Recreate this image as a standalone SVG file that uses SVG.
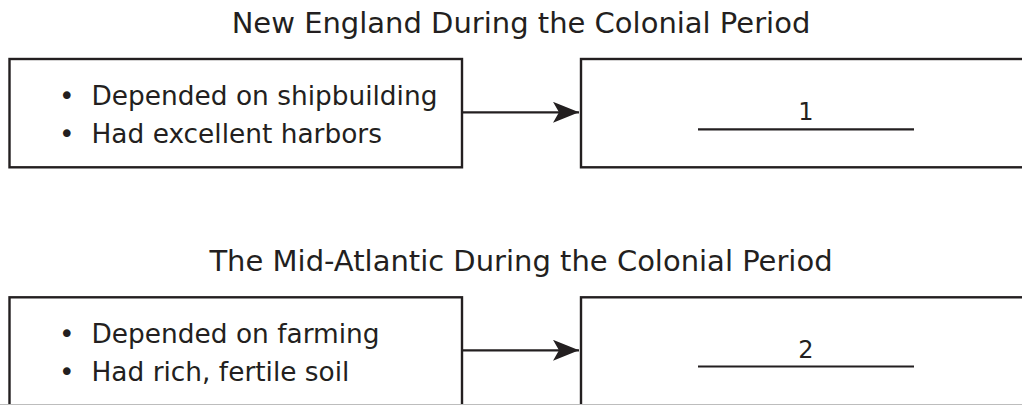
<svg xmlns="http://www.w3.org/2000/svg" width="1022" height="405" viewBox="0 0 1022 405">
<style>
.box{fill:#fff;stroke:#231f20;stroke-width:2.4}
.title{font-family:"DejaVu Sans",Verdana,sans-serif;font-size:29px;fill:#231f20;text-anchor:middle}
.body{font-family:"DejaVu Sans",Verdana,sans-serif;font-size:26.4px;fill:#231f20}
.bul{font-family:"DejaVu Sans",Verdana,sans-serif;font-size:26.4px;fill:#231f20;text-anchor:middle}
.num{font-family:"DejaVu Sans",Verdana,sans-serif;font-size:24px;fill:#231f20;text-anchor:middle}
.blank{stroke:#231f20;stroke-width:2.2}
.conn{stroke:#231f20;stroke-width:2.2;fill:none;marker-end:url(#arr)}
</style>
<defs>
<marker id="arr" markerUnits="userSpaceOnUse" viewBox="0 0 26 21" refX="26" refY="10.5" markerWidth="26" markerHeight="21" orient="auto">
<path d="M0,0 L26,10.5 L0,21 L6,10.5 Z" fill="#231f20"/>
</marker>
</defs>
<rect width="1022" height="405" fill="#fff"/>
<g id="title1"><text class="title" x="521" y="32.5">New England During the Colonial Period</text></g>
<g id="title2"><text class="title" x="521" y="270.8">The Mid-Atlantic During the Colonial Period</text></g>
<g id="cause1">
<rect class="box" x="9.5" y="59" width="452.5" height="108.3"/>
<text class="bul" x="66.7" y="105">•</text>
<text class="body" x="91.5" y="105">Depended on shipbuilding</text>
<text class="bul" x="66.7" y="142.7">•</text>
<text class="body" x="91.5" y="142.7">Had excellent harbors</text>
</g>
<g id="effect1">
<rect class="box" x="581" y="59" width="460" height="108.3"/>
<text class="num" x="806" y="120">1</text>
<line class="blank" x1="698" y1="129.3" x2="914" y2="129.3"/>
</g>
<g id="cause2">
<rect class="box" x="9.5" y="297.3" width="452.5" height="130"/>
<text class="bul" x="66.7" y="343.3">•</text>
<text class="body" x="91.5" y="343.3">Depended on farming</text>
<text class="bul" x="66.7" y="381">•</text>
<text class="body" x="91.5" y="381">Had rich, fertile soil</text>
</g>
<g id="effect2">
<rect class="box" x="581" y="297.3" width="460" height="130"/>
<text class="num" x="806" y="358">2</text>
<line class="blank" x1="698" y1="366.5" x2="914" y2="366.5"/>
</g>
<g id="connectors">
<line class="conn" x1="462" y1="112.3" x2="579" y2="112.3"/>
<line class="conn" x1="462" y1="350.3" x2="579" y2="350.3"/>
</g>
<line x1="0" y1="404.5" x2="1022" y2="404.5" stroke="#bdbdbd" stroke-width="1"/>
</svg>
